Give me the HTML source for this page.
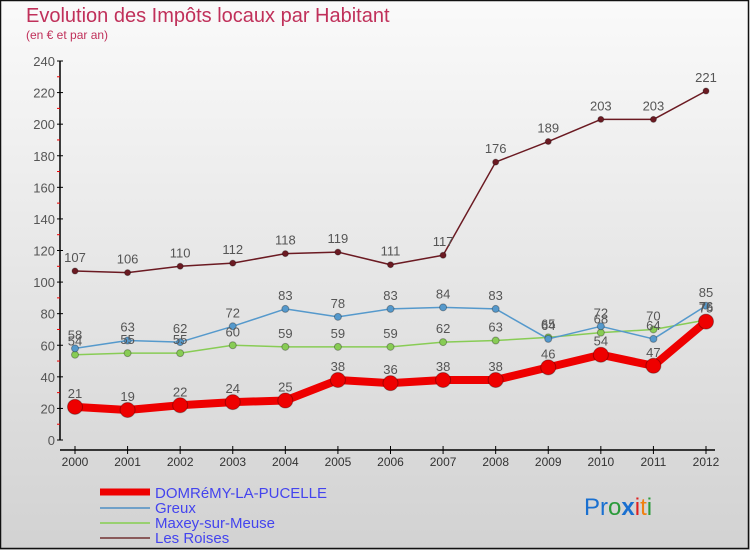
<!DOCTYPE html>
<html><head><meta charset="utf-8"><style>
body{margin:0;width:750px;height:550px;overflow:hidden;font-family:"Liberation Sans",sans-serif}
svg{display:block}
</style></head><body>
<svg width="750" height="550" xmlns="http://www.w3.org/2000/svg">
<defs><linearGradient id="bg" x1="0" y1="0" x2="0" y2="1"><stop offset="0" stop-color="#fafafa"/><stop offset="1" stop-color="#d2d2d2"/></linearGradient></defs>
<rect x="0" y="0" width="750" height="550" fill="url(#bg)"/>
<rect x="0.5" y="0.5" width="748" height="548" fill="none" stroke="#111" stroke-width="1.5"/>
<text x="26" y="22" font-size="20" fill="#c0305a">Evolution des Impôts locaux par Habitant</text>
<text x="26" y="39" font-size="12" fill="#c0305a">(en € et par an)</text>
<g id="axes"></g><g id="series"></g><g id="labels"></g>
<g font-size="15" fill="#4444ee">
<line x1="100" y1="492" x2="150" y2="492" stroke="#ee0000" stroke-width="7"/>
<text x="155" y="498">DOMRéMY-LA-PUCELLE</text>
<line x1="100" y1="508" x2="150" y2="508" stroke="#6fa0c8" stroke-width="2"/>
<text x="155" y="513">Greux</text>
<line x1="100" y1="523" x2="150" y2="523" stroke="#99d070" stroke-width="2"/>
<text x="155" y="528">Maxey-sur-Meuse</text>
<line x1="100" y1="538" x2="150" y2="538" stroke="#8a5a5a" stroke-width="2"/>
<text x="155" y="543">Les Roises</text>
</g>
<g font-size="24">
<text x="584" y="515"><tspan fill="#1a70d0">Pr</tspan><tspan fill="#2a9a3a">o</tspan><tspan fill="#1a70d0" font-weight="bold">x</tspan><tspan fill="#e02020">i</tspan><tspan fill="#f08010">t</tspan><tspan fill="#2a9a3a">i</tspan></text>
</g>
</svg>
<script>
const years=[2000,2001,2002,2003,2004,2005,2006,2007,2008,2009,2010,2011,2012];
const domremy=[21,19,22,24,25,38,36,38,38,46,54,47,75];
const greux=[58,63,62,72,83,78,83,84,83,64,72,64,85];
const maxey=[54,55,55,60,59,59,59,62,63,65,68,70,76];
const roises=[107,106,110,112,118,119,111,117,176,189,203,203,221];
const yTicks=[0,20,40,60,80,100,120,140,160,180,200,220,240];
const NS="http://www.w3.org/2000/svg";
const xs=i=>75+i*(706-75)/(years.length-1);
const ys=v=>440-v*(440-61)/240;
function mk(tag,attrs,parent){const e=document.createElementNS(NS,tag);for(const k in attrs)e.setAttribute(k,attrs[k]);parent.appendChild(e);return e;}
const ax=document.getElementById('axes'),se=document.getElementById('series'),lb=document.getElementById('labels');
let a=mk('line',{x1:60,y1:61,x2:60,y2:440,stroke:'#000','stroke-width':1.5},ax);


yTicks.forEach(v=>{
 let t=mk('line',{x1:57,x2:63,y1:ys(v),y2:ys(v),stroke:'#000'},ax);
 
 
 if(v<240){let m=mk('line',{x1:57,x2:60,y1:ys(v+10),y2:ys(v+10),stroke:'#e00'},ax);
 
 }
 let l=mk('text',{x:55,y:ys(v)+5,'text-anchor':'end','font-size':13,fill:'#555'},ax);l.textContent=v;
 
 
});
let xa=mk('line',{x1:60,y1:450,x2:715,y2:450,stroke:'#000','stroke-width':1.5},ax);


years.forEach((y,i)=>{
 let t=mk('line',{x1:xs(i),x2:xs(i),y1:446,y2:454,stroke:'#000'},ax);
 
 
 let l=mk('text',{x:xs(i),y:466,'text-anchor':'middle','font-size':12,fill:'#333'},ax);l.textContent=y;
 
 
});
function series(vals,color,w,r,name){
 let p=mk('polyline',{points:vals.map((v,i)=>xs(i)+','+ys(v)).join(' '),fill:'none',stroke:color,'stroke-width':w,'stroke-linejoin':'round'},se);
 
 
 vals.forEach((v,i)=>{
  let c=mk('circle',{cx:xs(i),cy:ys(v),r:r,fill:color,stroke:'rgba(0,0,0,0.3)','stroke-width':1},se);
  
  
  let l=mk('text',{x:xs(i),y:ys(v)-9,'text-anchor':'middle','font-size':13,fill:'#555'},lb);l.textContent=v;
  
  
 });
}
series(maxey,'#88cc55',1.5,3.5,'maxey');
series(greux,'#5599cc',1.5,3.5,'greux');
series(roises,'#6b1a22',1.5,3,'roises');
series(domremy,'#ee0000',8,7.5,'domremy');
</script>
</body></html>
